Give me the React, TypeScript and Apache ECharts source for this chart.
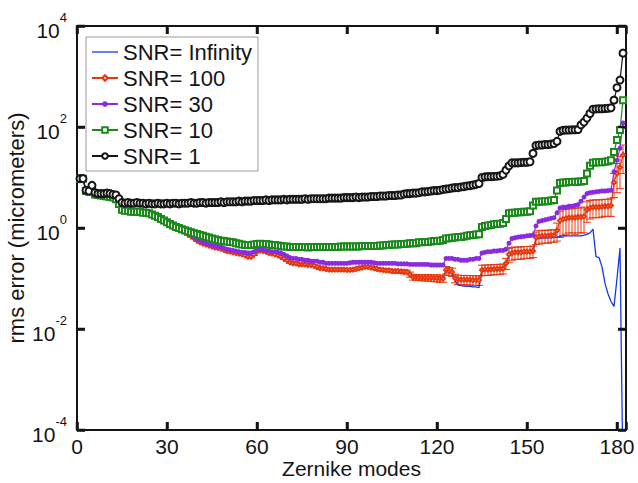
import React, { useEffect, useRef } from 'react';
import * as echarts from 'echarts';

// Zernike mode index (x values)
const modes: number[] = Array.from({ length: 182 }, (_, i) => i + 1);

// rms error (micrometers), one value per mode 1..182
const snrInfinity: number[] = [
  9.3, 9.3, 5.3, 5.1, 5.8, 4.5, 4.4, 4.3, 4.2, 4.1,
  4.0, 3.9, 3.6, 2.9, 2.25, 2.15, 2.15, 2.05, 2.05, 2.05,
  2.05, 1.95, 1.95, 1.85, 1.75, 1.65, 1.55, 1.4, 1.3, 1.2,
  1.1, 1.03, 0.97, 0.92, 0.87, 0.81, 0.75, 0.69, 0.63, 0.57,
  0.52, 0.49, 0.47, 0.45, 0.43, 0.41, 0.4, 0.39, 0.37, 0.35,
  0.34, 0.33, 0.32, 0.31, 0.3, 0.29, 0.27, 0.27, 0.3, 0.34,
  0.36, 0.35, 0.34, 0.32, 0.31, 0.3, 0.29, 0.27, 0.25, 0.23,
  0.21, 0.2, 0.2, 0.19, 0.19, 0.19, 0.185, 0.185, 0.18, 0.17,
  0.16, 0.16, 0.155, 0.15, 0.15, 0.15, 0.15, 0.15, 0.15, 0.148,
  0.148, 0.15, 0.155, 0.16, 0.165, 0.17, 0.17, 0.165, 0.16, 0.155,
  0.15, 0.148, 0.145, 0.145, 0.14, 0.14, 0.14, 0.138, 0.136, 0.135,
  0.12, 0.107, 0.106, 0.105, 0.105, 0.104, 0.104, 0.103, 0.102, 0.102,
  0.1, 0.1, 0.145, 0.135, 0.13, 0.09, 0.075, 0.072, 0.071, 0.07,
  0.07, 0.068, 0.068, 0.066, 0.14, 0.145, 0.145, 0.147, 0.15, 0.15,
  0.15, 0.152, 0.19, 0.29, 0.31, 0.31, 0.32, 0.32, 0.32, 0.33,
  0.33, 0.34, 0.6, 0.62, 0.63, 0.63, 0.64, 0.64, 0.65, 0.66,
  0.68, 0.7, 0.7, 0.7, 0.7, 0.7, 0.7, 0.7, 0.72, 0.75,
  0.8, 0.95, 0.27, 0.26, 0.17, 0.08, 0.05, 0.035, 0.028, 0.1,
  0.4, 0.00001,
];

const snr100: number[] = [
  9.3, 9.3, 5.3, 5.1, 5.8, 4.5, 4.4, 4.3, 4.2, 4.1,
  4.0, 3.9, 3.6, 2.9, 2.25, 2.15, 2.15, 2.05, 2.05, 2.05,
  2.05, 1.95, 1.95, 1.85, 1.75, 1.65, 1.55, 1.4, 1.3, 1.2,
  1.1, 1.03, 0.97, 0.92, 0.87, 0.81, 0.75, 0.69, 0.63, 0.57,
  0.52, 0.49, 0.47, 0.45, 0.43, 0.41, 0.4, 0.39, 0.37, 0.35,
  0.34, 0.33, 0.32, 0.31, 0.3, 0.29, 0.27, 0.27, 0.3, 0.34,
  0.36, 0.35, 0.34, 0.32, 0.31, 0.3, 0.29, 0.27, 0.25, 0.23,
  0.21, 0.2, 0.2, 0.19, 0.19, 0.19, 0.185, 0.185, 0.18, 0.17,
  0.16, 0.16, 0.155, 0.15, 0.15, 0.15, 0.15, 0.15, 0.15, 0.148,
  0.148, 0.15, 0.155, 0.16, 0.165, 0.17, 0.17, 0.165, 0.16, 0.155,
  0.15, 0.148, 0.145, 0.145, 0.14, 0.14, 0.14, 0.138, 0.136, 0.135,
  0.12, 0.107, 0.106, 0.105, 0.105, 0.104, 0.104, 0.103, 0.102, 0.102,
  0.1, 0.1, 0.148, 0.14, 0.135, 0.102, 0.096, 0.095, 0.095, 0.095,
  0.094, 0.093, 0.093, 0.093, 0.148, 0.15, 0.15, 0.152, 0.153, 0.155,
  0.156, 0.158, 0.2, 0.3, 0.32, 0.33, 0.33, 0.33, 0.34, 0.34,
  0.34, 0.35, 0.65, 0.68, 0.7, 0.7, 0.7, 0.72, 0.72, 0.9,
  1.4, 1.5, 1.55, 1.6, 1.6, 1.6, 1.65, 1.65, 1.7, 2.3,
  2.5, 2.6, 2.6, 2.6, 2.65, 2.7, 2.7, 2.8, 8, 12,
  16, 28,
];

// error-bar half length for SNR = 100 (micrometers)
const snr100Err: number[] = [
  0.3, 0.3, 0.2, 0.2, 0.2, 0.15, 0.15, 0.15, 0.15, 0.15,
  0.14, 0.14, 0.13, 0.1, 0.08, 0.08, 0.08, 0.07, 0.07, 0.07,
  0.07, 0.07, 0.07, 0.06, 0.06, 0.06, 0.05, 0.05, 0.05, 0.05,
  0.04, 0.04, 0.04, 0.035, 0.035, 0.03, 0.03, 0.03, 0.025, 0.025,
  0.02, 0.02, 0.02, 0.02, 0.02, 0.02, 0.018, 0.018, 0.018, 0.018,
  0.016, 0.016, 0.016, 0.015, 0.015, 0.015, 0.014, 0.014, 0.015, 0.016,
  0.016, 0.016, 0.015, 0.015, 0.015, 0.014, 0.014, 0.013, 0.012, 0.012,
  0.011, 0.011, 0.011, 0.01, 0.01, 0.01, 0.01, 0.01, 0.01, 0.01,
  0.01, 0.01, 0.01, 0.01, 0.01, 0.01, 0.01, 0.01, 0.01, 0.01,
  0.01, 0.01, 0.01, 0.01, 0.01, 0.01, 0.01, 0.01, 0.01, 0.01,
  0.01, 0.01, 0.01, 0.01, 0.01, 0.012, 0.012, 0.012, 0.012, 0.012,
  0.014, 0.014, 0.014, 0.014, 0.015, 0.015, 0.015, 0.015, 0.016, 0.016,
  0.016, 0.016, 0.025, 0.025, 0.025, 0.02, 0.02, 0.02, 0.02, 0.02,
  0.02, 0.02, 0.02, 0.02, 0.035, 0.035, 0.035, 0.035, 0.035, 0.035,
  0.035, 0.035, 0.05, 0.09, 0.09, 0.09, 0.09, 0.09, 0.09, 0.09,
  0.09, 0.09, 0.18, 0.2, 0.2, 0.2, 0.2, 0.2, 0.2, 0.35,
  0.75, 0.8, 0.8, 0.8, 0.8, 0.85, 0.85, 0.85, 0.9, 1.0,
  1.0, 1.0, 1.0, 1.0, 1.0, 1.0, 1.0, 1.1, 4, 7,
  10, 16,
];

const snr30: number[] = [
  9.5, 9.5, 5.4, 5.2, 6.0, 4.6, 4.5, 4.4, 4.3, 4.2,
  4.1, 4.0, 3.7, 3.0, 2.3, 2.2, 2.2, 2.1, 2.1, 2.1,
  2.1, 2.0, 2.0, 1.9, 1.8, 1.7, 1.6, 1.45, 1.35, 1.25,
  1.15, 1.07, 1.0, 0.95, 0.9, 0.84, 0.78, 0.72, 0.66, 0.6,
  0.56, 0.53, 0.5, 0.48, 0.46, 0.44, 0.43, 0.42, 0.4, 0.38,
  0.37, 0.36, 0.35, 0.34, 0.33, 0.33, 0.32, 0.32, 0.34, 0.37,
  0.38, 0.37, 0.36, 0.35, 0.34, 0.34, 0.33, 0.32, 0.3, 0.28,
  0.26, 0.25, 0.25, 0.24, 0.24, 0.23, 0.23, 0.22, 0.22, 0.22,
  0.21, 0.21, 0.2, 0.2, 0.2, 0.2, 0.2, 0.2, 0.2, 0.2,
  0.205, 0.21, 0.21, 0.21, 0.21, 0.21, 0.21, 0.21, 0.205, 0.2,
  0.2, 0.2, 0.2, 0.2, 0.2, 0.2, 0.195, 0.195, 0.195, 0.195,
  0.19, 0.19, 0.19, 0.19, 0.19, 0.19, 0.19, 0.185, 0.185, 0.185,
  0.185, 0.185, 0.25, 0.25, 0.25, 0.24, 0.24, 0.23, 0.23, 0.23,
  0.24, 0.24, 0.25, 0.25, 0.32, 0.33, 0.34, 0.34, 0.35, 0.35,
  0.36, 0.36, 0.38, 0.5, 0.62, 0.64, 0.66, 0.67, 0.68, 0.7,
  0.71, 0.72, 1.1, 1.35, 1.4, 1.45, 1.5, 1.55, 1.6, 2.0,
  2.5, 2.6, 2.6, 2.7, 2.7, 2.8, 2.9, 3.4, 4.1, 4.8,
  5.0, 5.1, 5.2, 5.3, 5.4, 5.4, 5.5, 5.6, 13, 22,
  38, 120,
];

const snr10: number[] = [
  9.5, 9.5, 5.4, 5.2, 6.0, 4.6, 4.5, 4.4, 4.3, 4.2,
  4.1, 4.0, 3.7, 3.0, 2.3, 2.2, 2.2, 2.1, 2.1, 2.1,
  2.1, 2.0, 2.0, 1.95, 1.85, 1.75, 1.65, 1.5, 1.4, 1.3,
  1.2, 1.12, 1.05, 1.0, 0.95, 0.9, 0.86, 0.82, 0.79, 0.76,
  0.73, 0.7, 0.67, 0.65, 0.62, 0.6, 0.58, 0.56, 0.55, 0.54,
  0.53, 0.52, 0.5, 0.49, 0.47, 0.46, 0.46, 0.46, 0.47, 0.48,
  0.49, 0.48, 0.48, 0.47, 0.46, 0.46, 0.45, 0.44, 0.43, 0.43,
  0.42, 0.42, 0.42, 0.42, 0.42, 0.42, 0.41, 0.42, 0.42, 0.42,
  0.42, 0.42, 0.42, 0.42, 0.42, 0.42, 0.42, 0.43, 0.43, 0.43,
  0.43, 0.43, 0.43, 0.43, 0.44, 0.44, 0.44, 0.44, 0.44, 0.44,
  0.45, 0.45, 0.46, 0.46, 0.47, 0.47, 0.47, 0.48, 0.48, 0.49,
  0.5, 0.5, 0.5, 0.52, 0.52, 0.53, 0.53, 0.54, 0.55, 0.55,
  0.56, 0.58, 0.62, 0.63, 0.64, 0.65, 0.66, 0.66, 0.68, 0.7,
  0.72, 0.73, 0.74, 0.75, 1.05, 1.1, 1.12, 1.15, 1.18, 1.2,
  1.22, 1.25, 1.5, 1.95, 2.0, 2.0, 2.05, 2.05, 2.1, 2.1,
  2.15, 2.8, 3.3, 3.3, 3.35, 3.4, 3.4, 3.5, 3.6, 5.5,
  7.8, 8.0, 8.0, 8.1, 8.1, 8.2, 8.2, 8.3, 8.5, 12,
  17, 19.5, 20, 20, 20, 20.5, 21, 22, 32, 55,
  87, 340,
];

const snr1: number[] = [
  9.5, 9.5, 5.6, 5.4, 7.0, 5.0, 4.8, 4.8, 4.8, 4.9,
  4.8, 4.6, 4.5, 3.8, 3.2, 3.1, 3.2, 3.1, 3.1, 3.2,
  3.1, 3.1, 3.0, 3.1, 3.0, 3.0, 3.1, 3.0, 3.0, 3.1,
  3.0, 3.1, 3.1, 3.0, 3.1, 3.1, 3.1, 3.2, 3.1, 3.1,
  3.2, 3.2, 3.1, 3.2, 3.2, 3.2, 3.2, 3.3, 3.2, 3.3,
  3.3, 3.3, 3.3, 3.4, 3.3, 3.4, 3.4, 3.4, 3.5, 3.5,
  3.5, 3.5, 3.6, 3.5, 3.6, 3.6, 3.6, 3.6, 3.7, 3.6,
  3.7, 3.7, 3.7, 3.7, 3.7, 3.8, 3.7, 3.8, 3.8, 3.8,
  3.8, 3.8, 3.8, 3.9, 3.9, 3.9, 3.9, 3.9, 4.0, 4.0,
  4.0, 4.0, 4.1, 4.0, 4.1, 4.1, 4.1, 4.2, 4.2, 4.2,
  4.3, 4.3, 4.3, 4.4, 4.4, 4.4, 4.5, 4.5, 4.7, 4.8,
  4.8, 4.9, 4.9, 5.0, 5.2, 5.2, 5.3, 5.4, 5.5, 5.5,
  5.6, 5.8, 5.9, 6.0, 6.2, 6.3, 6.3, 6.5, 6.6, 6.8,
  6.9, 7.1, 7.3, 7.6, 10.0, 10.3, 10.4, 10.4, 10.5, 10.6,
  10.8, 11.5, 14.0, 17.0, 19.5, 19.5, 19.5, 19.8, 20.0, 20.0,
  20.5, 30, 43, 44, 44, 45, 45, 46, 47, 52,
  82, 86, 87, 87, 88, 88, 89, 110, 125, 150,
  185, 225, 228, 230, 230, 232, 235, 240, 340, 600,
  850, 2900,
];

const seriesNames: string[] = ['SNR= Infinity', 'SNR= 100', 'SNR= 30', 'SNR= 10', 'SNR= 1'];
const xTicks: number[] = [0, 30, 60, 90, 120, 150, 180];
const yTicks: number[] = [1e-4, 1e-2, 1, 1e2, 1e4];
const X_MIN = 0;
const X_MAX = 183;
const Y_MIN = 1e-4;
const Y_MAX = 1e4;

const FONT = '"Liberation Sans", Arial, Helvetica, sans-serif';
const INK = '#141414';
const BLUE = '#1436ee';
const RED = '#e6380f';
const PURPLE = '#8a2be2';
const GREEN = '#1a8a1a';
const BLACK = '#161616';

const mkLine = () => ({ show: true, onZero: false, lineStyle: { color: INK, width: 2 } });
const mkTick = () => ({ show: true, inside: true, length: 8, lineStyle: { color: INK, width: 2.5, opacity: 1 } });

export default function App() {
  const ref = useRef<HTMLDivElement>(null);

  useEffect(() => {
    if (!ref.current) return;
    const chart = echarts.init(ref.current, null, { renderer: 'svg' });
    const pairs = (arr: number[]) => arr.map((v, i) => [modes[i], v]);

    const errRender = (params: any, api: any) => {
      const x = api.value(0);
      const v = api.value(1);
      const e = api.value(2);
      const top = api.coord([x, v + e]);
      const bot = api.coord([x, Math.max(v - e, 1e-6)]);
      const cw = 4;
      const style = { stroke: RED, lineWidth: 1, fill: 'none' };
      return {
        type: 'group',
        children: [
          { type: 'line', shape: { x1: top[0], y1: top[1], x2: bot[0], y2: bot[1] }, style },
          { type: 'line', shape: { x1: top[0] - cw, y1: top[1], x2: top[0] + cw, y2: top[1] }, style },
          { type: 'line', shape: { x1: bot[0] - cw, y1: bot[1], x2: bot[0] + cw, y2: bot[1] }, style },
        ],
      };
    };

    const TL = 8;
    const TW = 2.5;
    // inward tick marks (filled rects) at the bottom and top edges for each x tick value
    const xTickRender = (params: any, api: any) => {
      const t = api.value(0);
      const b = api.coord([t, Y_MIN]);
      const tp = api.coord([t, Y_MAX]);
      return {
        type: 'group',
        children: [
          { type: 'rect', shape: { x: b[0] - TW / 2, y: b[1] - TL, width: TW, height: TL }, style: { fill: INK } },
          { type: 'rect', shape: { x: tp[0] - TW / 2, y: tp[1], width: TW, height: TL }, style: { fill: INK } },
        ],
      };
    };
    // inward tick marks (filled rects) at the left and right edges for each y tick value
    const yTickRender = (params: any, api: any) => {
      const v = api.value(1);
      const l = api.coord([X_MIN, v]);
      const r = api.coord([X_MAX, v]);
      return {
        type: 'group',
        children: [
          { type: 'rect', shape: { x: l[0], y: l[1] - TW / 2, width: TL, height: TW }, style: { fill: INK } },
          { type: 'rect', shape: { x: r[0] - TL, y: r[1] - TW / 2, width: TL, height: TW }, style: { fill: INK } },
        ],
      };
    };

    const yLabel = {
      show: true,
      margin: 10,
      color: INK,
      formatter: (v: number) => {
        const e = Math.round(Math.log10(v));
        return `{b|10}{s|${e}}`;
      },
      rich: {
        b: { fontSize: 21, fontFamily: FONT, color: INK, verticalAlign: 'bottom', lineHeight: 30 },
        s: { fontSize: 13, fontFamily: FONT, color: INK, verticalAlign: 'top', lineHeight: 14 },
      },
    };

    const option: any = {
      animation: false,
      backgroundColor: '#ffffff',
      textStyle: { fontFamily: FONT },
      grid: { left: 77, right: 12, top: 26, bottom: 53, containLabel: false, outerBoundsMode: 'none' },
      legend: {
        orient: 'vertical',
        left: 86,
        top: 37,
        padding: [4, 6, 4, 5],
        itemWidth: 26,
        itemHeight: 7,
        itemGap: 4,
        borderColor: '#9a9a9a',
        borderWidth: 1,
        backgroundColor: '#ffffff',
        selectedMode: false,
        textStyle: { fontSize: 22, color: INK, fontFamily: FONT },
        data: [
          { name: seriesNames[0], icon: 'path://M0,0 L26,0 L26,1.3 L0,1.3 Z' },
          seriesNames[1], seriesNames[2], seriesNames[3], seriesNames[4],
        ],
      },
      xAxis: [
        {
          type: 'value', min: X_MIN, max: X_MAX, interval: 30, position: 'bottom',
          name: 'Zernike modes', nameLocation: 'middle', nameGap: 28, nameMoveOverlap: false,
          nameTextStyle: { fontSize: 21, color: INK, fontFamily: FONT },
          axisLine: mkLine(), axisTick: mkTick(),
          axisLabel: {
            show: true, fontSize: 21, color: INK, margin: 6, fontFamily: FONT,
            formatter: (v: number) => (xTicks.includes(v) ? String(v) : ''),
          },
          splitLine: { show: false },
        },
        {
          type: 'value', min: X_MIN, max: X_MAX, interval: 30, position: 'top',
          axisLine: mkLine(), axisTick: mkTick(), axisLabel: { show: false }, splitLine: { show: false },
        },
      ],
      yAxis: [
        {
          type: 'log', logBase: 10, min: Y_MIN, max: Y_MAX, interval: 2, position: 'left',
          name: 'rms error (micrometers)', nameLocation: 'middle', nameGap: 50, nameRotate: 90,
          nameMoveOverlap: false,
          nameTextStyle: { fontSize: 22, color: INK, fontFamily: FONT },
          axisLine: mkLine(), axisTick: mkTick(), axisLabel: yLabel, splitLine: { show: false },
          minorTick: { show: false },
        },
        {
          type: 'log', logBase: 10, min: Y_MIN, max: Y_MAX, interval: 2, position: 'right',
          axisLine: mkLine(), axisTick: mkTick(), axisLabel: { show: false }, splitLine: { show: false },
        },
      ],
      series: [
        {
          name: seriesNames[0], type: 'line', data: pairs(snrInfinity),
          symbol: 'none', showSymbol: false,
          lineStyle: { color: BLUE, width: 1.3 }, itemStyle: { color: BLUE },
          emphasis: { disabled: true }, z: 2,
        },
        {
          name: seriesNames[1], type: 'line', data: pairs(snr100),
          symbol: 'emptyDiamond', symbolSize: 4, showAllSymbol: true,
          lineStyle: { color: RED, width: 1.2 }, itemStyle: { color: RED, borderWidth: 1 },
          emphasis: { disabled: true }, z: 2,
        },
        {
          name: 'SNR= 100 error', type: 'custom', renderItem: errRender,
          data: snr100.map((v, i) => [modes[i], v, snr100Err[i]]),
          encode: { x: 0, y: 1 }, clip: true, silent: true, z: 2,
        },
        {
          name: seriesNames[2], type: 'line', data: pairs(snr30),
          symbol: 'circle', symbolSize: 5, showAllSymbol: true,
          lineStyle: { color: PURPLE, width: 1.2 }, itemStyle: { color: PURPLE },
          emphasis: { disabled: true }, z: 2,
        },
        {
          name: seriesNames[3], type: 'line', data: pairs(snr10),
          symbol: 'emptyRect', symbolSize: 6, showAllSymbol: true,
          lineStyle: { color: GREEN, width: 1.2 }, itemStyle: { color: GREEN, borderWidth: 1.2 },
          emphasis: { disabled: true }, z: 2,
        },
        {
          name: seriesNames[4], type: 'line', data: pairs(snr1),
          symbol: 'emptyCircle', symbolSize: 7, showAllSymbol: true,
          lineStyle: { color: BLACK, width: 1.2 }, itemStyle: { color: BLACK, borderWidth: 1.3 },
          emphasis: { disabled: true }, z: 2,
        },
        {
          name: 'x ticks', type: 'custom', renderItem: xTickRender,
          data: xTicks.map((t) => [t, Y_MIN]), encode: { x: 0, y: 1 },
          clip: false, silent: true, z: 10,
        },
        {
          name: 'y ticks', type: 'custom', renderItem: yTickRender,
          data: yTicks.map((v) => [X_MIN, v]), encode: { x: 0, y: 1 },
          clip: false, silent: true, z: 10,
        },
      ],
    };

    chart.setOption(option);
    return () => chart.dispose();
  }, []);

  return (
    <div
      ref={ref}
      style={{ position: 'absolute', left: 0, top: 0, width: 638, height: 483, background: '#ffffff' }}
    />
  );
}
